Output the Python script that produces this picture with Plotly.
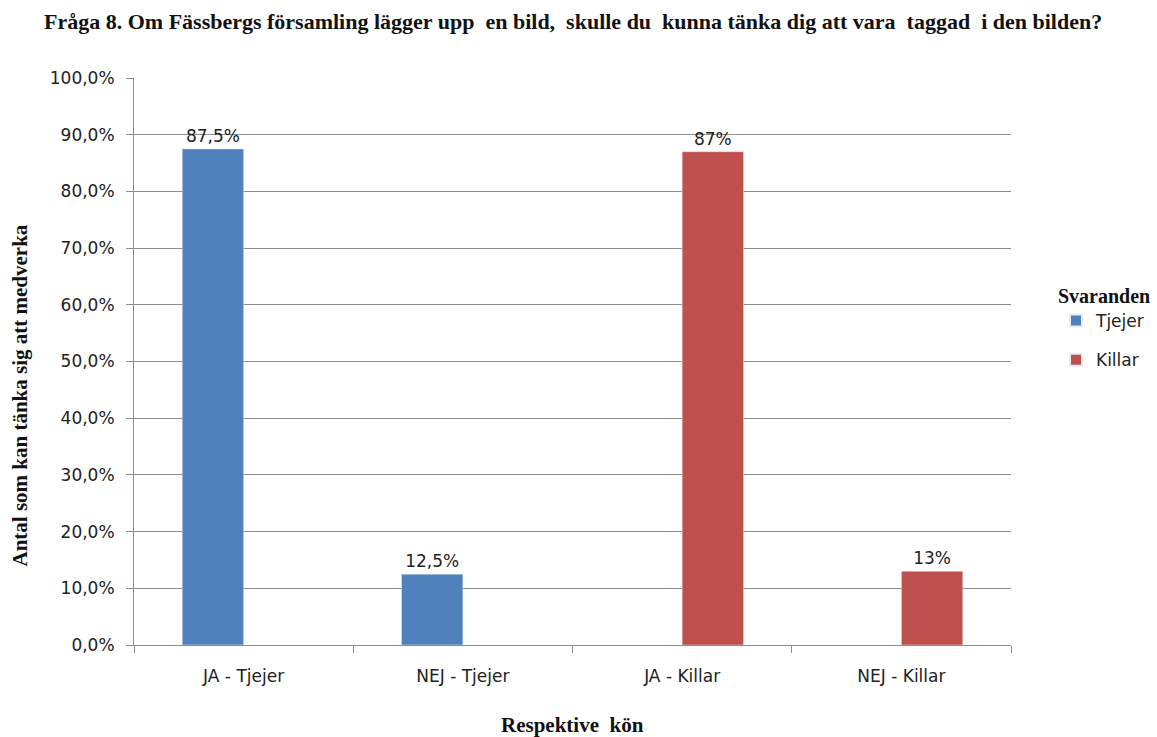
import plotly.graph_objects as go

categories = ["JA - Tjejer", "NEJ - Tjejer", "JA - Killar", "NEJ - Killar"]
tjejer_values = [0.875, 0.125, None, None]
killar_values = [None, None, 0.87, 0.13]
tjejer_labels = ["87,5%", "12,5%", "", ""]
killar_labels = ["", "", "87%", "13%"]
y_ticks = [i / 10 for i in range(11)]

SANS = "DejaVu Sans"
SERIF = "Liberation Serif"

fig = go.Figure()
fig.add_trace(go.Bar(
    name="Tjejer", x=categories, y=tjejer_values, text=tjejer_labels,
    textposition="outside", marker_color="#4F81BD", cliponaxis=False,
    legendgroup="t", textfont=dict(family=SANS, size=17, color="#222222"),
))
fig.add_trace(go.Bar(
    name="Killar", x=categories, y=killar_values, text=killar_labels,
    textposition="outside", marker_color="#C0504D", cliponaxis=False,
    legendgroup="k", textfont=dict(family=SANS, size=17, color="#222222"),
))

fig.update_layout(
    width=1157, height=737,
    margin=dict(l=134, r=146, t=78, b=92, autoexpand=False),
    paper_bgcolor="white", plot_bgcolor="white",
    separators=",.",
    barmode="group", bargap=0.44, bargroupgap=0,
    showlegend=True,
    legend=dict(
        xref="container", x=0.9127, y=0.56, xanchor="left", yanchor="middle",
        title=dict(text="<b>Svaranden</b>", font=dict(family=SERIF, size=20, color="#111111")),
        font=dict(family=SANS, size=17, color="#222222"),
        tracegroupgap=14, itemsizing="constant",
    ),
    font=dict(family=SANS, size=17, color="#222222"),
    annotations=[
        dict(text="<b>Fråga 8. Om Fässbergs församling lägger upp  en bild,  skulle du  kunna tänka dig att vara  taggad  i den bilden?</b>",
             xref="paper", yref="paper", x=0.5, y=1, yshift=57, xanchor="center", yanchor="middle",
             showarrow=False, font=dict(family=SERIF, size=22, color="#111111")),
        dict(text="<b>Antal som kan tänka sig att medverka</b>",
             xref="paper", yref="paper", x=0, xshift=-114, y=0.44, textangle=-90,
             xanchor="center", yanchor="middle", showarrow=False,
             font=dict(family=SERIF, size=21, color="#111111")),
        dict(text="<b>Respektive  kön</b>",
             xref="paper", yref="paper", x=0.5, y=0, yshift=-80,
             xanchor="center", yanchor="middle", showarrow=False,
             font=dict(family=SERIF, size=21, color="#111111")),
    ],
)
fig.update_yaxes(
    range=[0, 1], tickvals=y_ticks, tickformat=".1%",
    showgrid=True, gridcolor="#8C8C8C", gridwidth=1,
    showline=True, linecolor="#8C8C8C", linewidth=1,
    ticks="outside", ticklen=7, tickcolor="#8C8C8C",
    zeroline=False, ticklabelstandoff=8,
)
fig.update_xaxes(
    showline=True, linecolor="#8C8C8C", linewidth=1,
    ticks="outside", ticklen=7, tickcolor="#8C8C8C",
    tickson="boundaries", ticklabelstandoff=16,
)

fig.write_html("out.html")
